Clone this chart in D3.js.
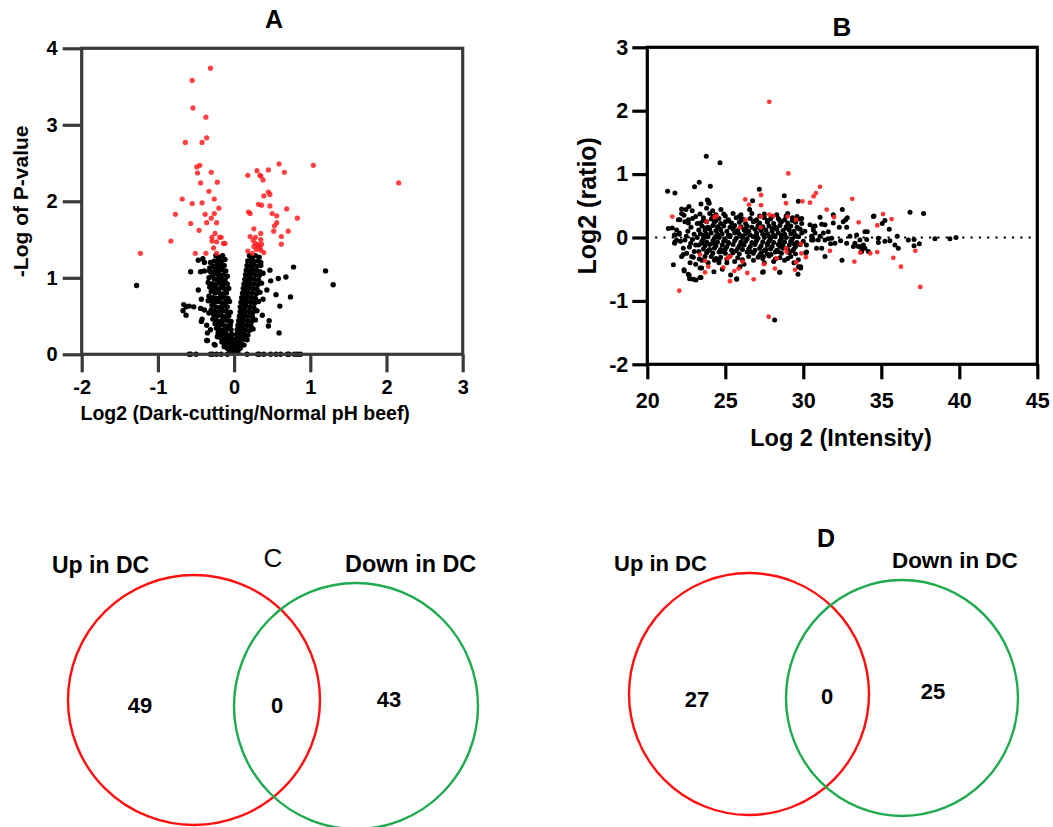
<!DOCTYPE html>
<html>
<head>
<meta charset="utf-8">
<script src="https://cdn.jsdelivr.net/npm/d3@7"></script>
<style>
  html, body { margin: 0; padding: 0; background: #fff; }
  svg { display: block; font-family: Arial, "Liberation Sans", Helvetica, sans-serif; }
</style>
</head>
<body>
<svg id="fig" width="1053" height="827"></svg>
<script>
// ---------- Panel A: volcano plot (log2 fold change vs -log10 p) ----------
const volcanoXTicks = [-2, -1, 0, 1, 2, 3];
const volcanoYTicks = [0, 1, 2, 3, 4];

// significant proteins (p < 0.05)
const volcanoSig = [
  [-0.31,3.74],[-0.55,3.58],[-0.54,3.22],[-0.37,3.10],[-0.64,2.77],[-0.42,2.77],[-0.36,2.83],
  [-0.49,2.45],[-0.45,2.47],[-0.48,2.37],[-0.30,2.38],[-0.44,2.24],[-0.22,2.25],[-0.33,2.13],
  [-0.68,2.03],[-0.55,1.97],[-0.42,1.98],[-0.26,2.03],[-0.20,1.91],[-0.77,1.83],[-0.38,1.83],
  [-0.26,1.84],[-0.57,1.71],[-0.36,1.72],[-0.30,1.78],[-0.23,1.72],[-0.46,1.62],[-0.83,1.48],
  [-0.25,1.58],[-0.29,1.53],[-0.19,1.53],[-0.17,1.53],[-0.23,1.47],[-0.29,1.48],[-0.14,1.45],
  [-0.12,1.45],[-0.27,1.39],[-0.51,1.32],[-0.37,1.32],[-1.23,1.32],[-0.23,1.32],
  [1.04,2.47],[2.16,2.24],[0.59,2.49],[0.45,2.41],[0.30,2.40],[0.18,2.34],[0.34,2.34],
  [0.35,2.33],[0.38,2.28],[0.66,2.38],[0.45,2.12],[0.47,2.09],[0.39,2.07],[0.32,1.96],
  [0.36,1.95],[0.47,1.94],[0.69,1.90],[0.19,1.86],[0.21,1.84],[0.50,1.84],[0.56,1.81],
  [0.83,1.78],[0.56,1.72],[0.53,1.68],[0.52,1.61],[0.26,1.64],[0.71,1.61],[0.35,1.58],
  [0.62,1.54],[0.21,1.54],[0.28,1.53],[0.25,1.49],[0.35,1.50],[0.62,1.44],[0.28,1.45],
  [0.32,1.43],[0.26,1.41],[0.34,1.39],[0.29,1.37],[0.35,1.36],[0.18,1.35],[0.39,1.33],
  [0.24,1.32],[0.32,1.41],[0.36,1.44]
];

// non-significant proteins
const volcanoNS = [
  [-1.28,0.90],[1.20,1.09],[1.30,0.91],[0.78,1.14],[0.68,1.01],[0.58,0.99],[0.74,0.75],
  [0.60,0.63],[0.55,0.78],[0.59,0.28],[0.46,0.44],[0.45,0.37],[0.48,0.96],[0.43,0.84],
  [0.37,0.51],[0.38,0.72],[0.47,1.10],
  [-0.57,1.08],[-0.47,1.23],[-0.41,1.25],[-0.39,1.20],[-0.44,1.08],[-0.39,1.09],[-0.32,1.09],
  [-0.47,0.84],[-0.66,0.65],[-0.63,0.62],[-0.59,0.63],[-0.53,0.62],[-0.67,0.57],[-0.63,0.51],
  [-0.43,0.72],[-0.44,0.60],[-0.42,0.46],[-0.39,0.58],[-0.35,0.28],[-0.35,0.18],[-0.25,0.12],
  [-0.33,0.54],[-0.43,0.43],[-0.36,0.18],[-0.26,0.13],[-0.22,0.23],[-0.30,0.90],[-0.34,0.70],
  [-0.36,0.38],[-0.31,0.32],
  [-0.59,0],[-0.57,0],[-0.50,0],[-0.31,0],[-0.28,0],[-0.23,0],[-0.17,0],[-0.09,0],[0.17,0],
  [0.31,0],[0.33,0],[0.39,0],[0.48,0],[0.55,0],[0.61,0],[0.70,0],[0.72,0],[0.79,0],[0.83,0],[0.87,0],
  [-0.24,1.29],[-0.19,1.27],[-0.15,1.29],
  [-0.26,1.22],[-0.21,1.23],[-0.17,1.21],[-0.12,1.24],
  [-0.27,1.15],[-0.22,1.17],[-0.18,1.15],[-0.13,1.16],
  [-0.25,1.10],[-0.20,1.09],[-0.16,1.11],[-0.11,1.09],
  [-0.28,1.03],[-0.23,1.05],[-0.18,1.03],[-0.14,1.04],[-0.09,1.02],
  [-0.26,0.98],[-0.21,0.97],[-0.17,0.99],[-0.12,0.97],
  [-0.29,0.92],[-0.24,0.91],[-0.19,0.93],[-0.14,0.91],[-0.09,0.92],
  [-0.27,0.86],[-0.22,0.85],[-0.17,0.87],[-0.12,0.85],[-0.07,0.86],
  [-0.25,0.80],[-0.20,0.81],[-0.15,0.79],[-0.10,0.80],
  [-0.28,0.74],[-0.23,0.73],[-0.18,0.75],[-0.13,0.74],[-0.08,0.73],
  [-0.26,0.68],[-0.21,0.69],[-0.16,0.67],[-0.11,0.68],[-0.06,0.69],
  [-0.24,0.62],[-0.19,0.61],[-0.14,0.63],[-0.09,0.62],
  [-0.25,0.56],[-0.20,0.55],[-0.15,0.57],[-0.10,0.56],[-0.05,0.55],
  [-0.22,0.50],[-0.17,0.51],[-0.12,0.49],[-0.07,0.50],
  [-0.23,0.44],[-0.18,0.43],[-0.13,0.45],[-0.08,0.44],[-0.04,0.43],
  [-0.20,0.38],[-0.15,0.39],[-0.10,0.37],[-0.05,0.38],
  [-0.18,0.32],[-0.13,0.31],[-0.09,0.33],[-0.04,0.32],
  [-0.16,0.26],[-0.11,0.27],[-0.07,0.25],[-0.03,0.26],
  [-0.14,0.20],[-0.10,0.21],[-0.06,0.19],[-0.02,0.20],
  [-0.12,0.14],[-0.08,0.15],[-0.04,0.13],[-0.01,0.14],
  [-0.09,0.08],[-0.06,0.09],[-0.03,0.07],[0.00,0.08],
  [-0.06,0.03],[-0.03,0.02],[0.00,0.03],[0.02,0.02],
  [-0.31,1.20],[-0.32,1.13],[-0.30,1.07],[-0.33,1.00],[-0.34,0.94],[-0.32,0.88],[-0.30,0.82],
  [-0.33,0.76],[-0.31,0.70],[-0.29,0.64],[-0.30,0.58],[-0.27,0.52],[-0.28,0.46],[-0.25,0.40],
  [-0.23,0.34],[-0.21,0.28],[-0.18,0.22],[-0.16,0.16],[-0.13,0.10],
  [-0.195,1.19],[-0.235,1.13],[-0.20,1.00],[-0.155,0.95],[-0.245,0.83],[-0.195,0.71],
  [-0.165,0.59],[-0.145,0.47],[-0.115,0.35],[-0.085,0.23],
  [0.20,1.29],[0.24,1.27],[0.28,1.29],
  [0.18,1.22],[0.22,1.23],[0.26,1.21],[0.31,1.22],
  [0.17,1.16],[0.21,1.15],[0.25,1.17],[0.30,1.15],[0.35,1.16],
  [0.16,1.10],[0.20,1.09],[0.24,1.11],[0.29,1.10],
  [0.15,1.04],[0.19,1.03],[0.23,1.05],[0.28,1.04],[0.33,1.03],
  [0.14,0.98],[0.18,0.97],[0.22,0.99],[0.27,0.98],
  [0.13,0.92],[0.17,0.91],[0.21,0.93],[0.26,0.92],[0.31,0.91],
  [0.12,0.86],[0.16,0.85],[0.20,0.87],[0.25,0.86],
  [0.11,0.80],[0.15,0.79],[0.19,0.81],[0.24,0.80],[0.29,0.79],
  [0.10,0.74],[0.14,0.73],[0.18,0.75],[0.23,0.74],
  [0.09,0.68],[0.13,0.67],[0.17,0.69],[0.22,0.68],[0.27,0.67],
  [0.08,0.62],[0.12,0.61],[0.16,0.63],[0.21,0.62],
  [0.08,0.56],[0.11,0.55],[0.15,0.57],[0.20,0.56],[0.25,0.55],
  [0.07,0.50],[0.10,0.49],[0.14,0.51],[0.19,0.50],
  [0.06,0.44],[0.09,0.43],[0.13,0.45],[0.18,0.44],[0.23,0.43],
  [0.05,0.38],[0.08,0.37],[0.12,0.39],[0.17,0.38],
  [0.04,0.32],[0.07,0.31],[0.11,0.33],[0.15,0.32],[0.20,0.31],
  [0.03,0.26],[0.06,0.25],[0.10,0.27],[0.14,0.26],
  [0.03,0.20],[0.05,0.19],[0.09,0.21],[0.13,0.20],
  [0.02,0.14],[0.04,0.13],[0.07,0.15],[0.10,0.14],
  [0.01,0.08],[0.03,0.07],[0.05,0.09],[0.08,0.08],
  [0.01,0.03],[0.03,0.02],[0.05,0.03],
  [0.33,1.27],[0.35,1.20],[0.34,1.08],[0.38,1.06],[0.32,0.97],[0.36,0.93],[0.30,0.85],
  [0.34,0.81],[0.28,0.73],[0.32,0.69],[0.26,0.61],[0.30,0.57],[0.24,0.49],[0.28,0.45],
  [0.22,0.37],[0.25,0.33],[0.18,0.25],[0.17,0.19],[0.13,0.12],
  [0.235,1.19],[0.225,1.07],[0.195,0.95],[0.175,0.83],[0.155,0.71],[0.135,0.59],
  [0.115,0.47],[0.09,0.35],[0.075,0.23]
];

// ---------- Panel B: MA plot (log2 intensity vs log2 ratio) ----------
const maXTicks = [20, 25, 30, 35, 40, 45];
const maYTicks = [-2, -1, 0, 1, 2, 3];

const maSig = [
  [21.60,0.33],[22.05,-0.84],[29.04,1.01],[31.07,0.80],[30.81,0.70],[30.66,0.65],[30.43,0.55],
  [29.94,0.57],[28.89,0.54],[27.29,0.67],[26.28,0.60],[26.52,0.52],[27.29,0.51],[31.50,0.44],
  [31.97,0.32],[33.14,0.61],[33.55,0.24],[35.11,0.37],[35.66,0.29],[34.74,0.19],[33.27,-0.38],
  [31.71,-0.21],[27.78,-1.25],[24.44,0.34],[24.32,0.32],[23.80,0.25],[23.38,-0.27],[23.70,-0.37],
  [23.91,-0.46],[23.70,-0.55],[24.87,-0.47],[25.30,-0.69],[25.58,-0.53],[25.85,-0.49],[26.11,-0.38],
  [26.41,-0.56],[26.82,-0.66],[25.13,-0.33],[27.48,-0.42],[28.18,-0.49],[28.29,-0.33],[28.93,-0.23],
  [29.47,-0.51],[29.55,-0.39],[29.87,-0.25],[30.17,-0.31],[29.85,-0.10],[26.30,0.28],[27.29,0.33],
  [28.08,0.34],[27.82,0.36],[28.99,0.33],[29.53,0.28],[25.94,0.16],[27.27,0.16],[28.89,-0.17],
  [25.30,-0.30],[33.65,-0.24],[34.29,-0.25],[34.74,-0.23],[35.77,-0.32],[36.26,-0.46],[37.18,-0.21],
  [37.50,-0.78],[27.82,2.14]
];

const maNS = [
  [23.6,0.31],[24.1,0.29],[24.6,0.30],[25.2,0.28],[25.7,0.31],[26.1,0.29],[26.6,0.30],[27.0,0.28],
  [27.5,0.31],[27.9,0.29],[28.4,0.30],[28.8,0.28],[29.3,0.31],[29.7,0.29],
  [23.4,0.23],[23.8,0.25],[24.3,0.24],[24.7,0.22],[25.0,0.25],[25.4,0.23],[25.9,0.24],[26.3,0.22],
  [26.8,0.25],[27.2,0.23],[27.7,0.24],[28.1,0.22],[28.6,0.25],[29.0,0.23],[29.5,0.24],[29.9,0.22],
  [23.5,0.18],[23.9,0.16],[24.2,0.19],[24.5,0.17],[24.9,0.18],[25.3,0.16],[25.6,0.19],[26.0,0.17],
  [26.4,0.18],[26.7,0.16],[27.1,0.19],[27.4,0.17],[27.8,0.18],[28.2,0.16],[28.5,0.19],[28.9,0.17],
  [29.2,0.18],[29.6,0.16],
  [23.3,0.12],[23.7,0.11],[24.0,0.13],[24.4,0.11],[24.7,0.12],[25.1,0.10],[25.5,0.13],[25.8,0.11],
  [26.2,0.12],[26.5,0.10],[26.9,0.13],[27.3,0.11],[27.6,0.12],[28.0,0.10],[28.3,0.13],[28.7,0.11],
  [29.1,0.12],[29.4,0.10],[29.8,0.13],
  [23.4,0.06],[23.8,0.05],[24.1,0.07],[24.5,0.05],[24.8,0.06],[25.2,0.04],[25.6,0.07],[25.9,0.05],
  [26.3,0.06],[26.6,0.04],[27.0,0.07],[27.4,0.05],[27.7,0.06],[28.1,0.04],[28.4,0.07],[28.8,0.05],
  [29.2,0.06],[29.5,0.04],[29.9,0.07],
  [23.2,0.00],[23.6,-0.01],[23.9,0.01],[24.3,-0.01],[24.6,0.00],[25.0,-0.02],[25.3,0.01],[25.7,-0.01],
  [26.1,0.00],[26.4,-0.02],[26.8,0.01],[27.1,-0.01],[27.5,0.00],[27.9,-0.02],[28.2,0.01],[28.6,-0.01],
  [28.9,0.00],[29.3,-0.02],[29.7,0.01],
  [23.5,-0.06],[23.8,-0.07],[24.2,-0.05],[24.5,-0.07],[24.9,-0.06],[25.2,-0.08],[25.6,-0.05],[26.0,-0.07],
  [26.3,-0.06],[26.7,-0.08],[27.0,-0.05],[27.4,-0.07],[27.8,-0.06],[28.1,-0.08],[28.5,-0.05],[28.8,-0.07],
  [29.2,-0.06],[29.6,-0.08],
  [23.3,-0.12],[23.7,-0.13],[24.0,-0.11],[24.4,-0.13],[24.8,-0.12],[25.1,-0.14],[25.5,-0.11],[25.9,-0.13],
  [26.2,-0.12],[26.6,-0.14],[26.9,-0.11],[27.3,-0.13],[27.7,-0.12],[28.0,-0.14],[28.4,-0.11],[28.7,-0.13],
  [29.1,-0.12],[29.5,-0.14],[29.8,-0.11],
  [23.6,-0.18],[24.0,-0.19],[24.3,-0.17],[24.7,-0.19],[25.0,-0.18],[25.4,-0.20],[25.8,-0.17],[26.1,-0.19],
  [26.5,-0.18],[26.9,-0.20],[27.2,-0.17],[27.6,-0.19],[27.9,-0.18],[28.3,-0.20],[28.7,-0.17],[29.0,-0.19],
  [29.4,-0.18],
  [23.8,-0.24],[24.2,-0.25],[24.6,-0.23],[25.0,-0.25],[25.5,-0.24],[25.9,-0.26],[26.4,-0.23],[26.8,-0.25],
  [27.3,-0.24],[27.7,-0.26],[28.2,-0.23],[28.6,-0.25],[29.1,-0.24],[29.5,-0.26],
  [24.1,-0.30],[24.7,-0.31],[25.3,-0.29],[25.8,-0.32],[26.5,-0.30],[27.1,-0.31],[27.8,-0.29],[28.5,-0.32],
  [29.2,-0.30],
  [23.6,0.27],[24.4,0.27],[25.2,0.26],[26.0,0.27],[26.9,0.26],[27.7,0.27],[28.5,0.26],[29.3,0.27],
  [23.7,0.15],[24.6,0.14],[25.5,0.15],[26.3,0.14],[27.2,0.15],[28.0,0.14],[28.9,0.15],[29.7,0.14],
  [23.6,0.03],[24.4,0.02],[25.3,0.03],[26.1,0.02],[27.0,0.03],[27.8,0.02],[28.6,0.03],[29.5,0.02],
  [23.5,-0.09],[24.3,-0.10],[25.2,-0.09],[26.0,-0.10],[26.9,-0.09],[27.7,-0.10],[28.5,-0.09],[29.4,-0.10],
  [23.9,-0.21],[24.8,-0.22],[25.7,-0.21],[26.6,-0.22],[27.5,-0.21],[28.4,-0.22],[29.3,-0.21],
  [24.4,-0.33],[25.1,-0.34],[26.1,-0.35],[27.4,-0.33],[28.2,-0.34],[29.0,-0.33],
  [24.2,0.33],[25.0,0.34],[25.9,0.33],[27.2,0.34],[28.0,0.33],[28.9,0.34],[29.6,0.33],
  [22.6,0.10],[22.8,0.16],[23.0,0.05],[22.9,-0.03],[22.5,0.02],[23.1,-0.12],[22.7,-0.15],[23.2,0.22],
  [22.9,0.30],[23.1,-0.42],[23.3,-0.22],[23.5,-0.36],[23.7,-0.30],[23.9,-0.40],[24.3,-0.36],[24.0,0.38],
  [24.4,0.36],[24.9,0.37],[25.5,0.38],[26.0,0.36],[26.7,0.38],[27.5,0.37],[28.3,0.36],[29.0,0.38],
  [29.9,0.30],[30.1,0.10],[30.2,-0.12],[24.6,-0.36],[25.1,-0.40],[25.6,-0.38],[26.2,-0.42],[26.8,-0.36],
  [27.5,-0.40],[28.1,-0.38],[28.8,-0.36],[29.4,-0.40],
  [21.30,0.73],[21.77,0.70],[23.78,1.28],[24.66,1.18],[23.33,0.87],[23.03,0.80],[24.04,0.81],[23.91,0.58],
  [23.97,0.54],[23.44,0.53],[22.20,0.45],[22.88,0.42],[22.67,0.49],[22.35,0.35],[21.99,0.28],[21.60,0.15],
  [21.35,0.14],[21.73,0.04],[22.05,0.05],[21.88,-0.04],[21.75,-0.09],[22.12,-0.06],[21.67,-0.43],[22.31,-0.27],
  [22.20,-0.30],[22.74,-0.40],[22.37,-0.53],[22.69,-0.60],[22.95,-0.66],[23.12,-0.67],[23.38,-0.63],[23.48,-0.48],
  [23.01,-0.22],[22.95,-0.31],[23.33,-0.34],[22.78,-0.09],[22.63,0.23],[22.41,0.25],[23.10,0.33],[23.38,0.37],
  [23.80,0.46],[24.19,0.42],[24.72,0.44],[24.27,-0.54],[24.81,-0.50],[25.73,-0.65],[25.34,-0.59],[24.59,-0.40],
  [25.94,-0.46],[27.18,0.76],[26.75,0.58],[26.56,0.44],[28.78,0.66],[29.68,0.57],[29.70,-0.46],[29.66,-0.58],
  [28.50,-0.55],[28.16,-1.30],[27.44,-0.54],[27.39,-0.55],[27.44,-0.30],[27.22,-0.27],[27.93,-0.27],[28.50,-0.14],
  [29.68,-0.35],[29.83,-0.48],[30.15,-0.24],[30.00,-0.06],[30.43,0.20],[30.75,0.18],[31.07,0.32],[31.39,0.20],
  [31.92,0.36],[32.50,0.44],[31.92,0.23],[32.31,0.16],[32.56,0.25],[32.78,0.16],[32.71,0.28],[31.60,0.09],
  [31.82,-0.01],[31.39,-0.04],[31.07,0.02],[30.64,-0.04],[30.85,-0.17],[31.18,-0.17],[31.39,-0.30],[30.53,0.02],
  [30.64,0.12],[32.03,-0.09],[32.39,-0.05],[32.78,-0.09],[32.48,-0.36],[32.99,0.02],[33.31,-0.09],[33.63,-0.04],
  [33.53,-0.14],[33.74,-0.17],[33.21,-0.14],[33.42,0.04],[33.95,0.09],[34.06,-0.03],[32.82,0.31],[34.49,0.33],
  [36.84,0.40],[37.71,0.38],[34.53,0.34],[35.06,0.22],[35.23,0.27],[35.51,0.13],[34.10,0.09],[34.81,-0.01],
  [34.81,-0.08],[35.23,-0.06],[35.55,-0.05],[36.02,0.02],[35.87,-0.12],[36.09,-0.17],[36.73,-0.04],[37.10,-0.03],
  [37.10,-0.13],[37.44,-0.10],[38.44,-0.02],[39.40,-0.02],[39.79,0.00],[33.64,-0.14],[33.74,-0.22],[34.17,-0.22],
  [33.95,-0.17],[33.85,-0.12],[31.75,-0.10],[31.60,-0.02],[31.28,0.07],[31.18,0.21],[30.64,0.17],[30.75,0.07],
  [30.96,-0.04],[30.53,-0.04],[30.21,-0.23],[29.83,-0.46],[28.48,-0.55],[25.73,-0.66],[22.09,0.28],[22.48,0.44],
  [22.63,0.28],[22.52,-0.25],[22.31,-0.17],[22.41,-0.04],[22.84,-0.30],[23.44,-0.63],[23.38,-0.48],[22.35,-0.51],
  [22.63,-0.58],[22.71,-0.65],[21.88,0.12],[21.77,0.04],[22.05,0.07],[21.77,-0.07],[22.20,0.38],[23.93,0.55],
  [23.85,0.59]
];

// ---------- Panels C and D: Venn diagrams ----------
const vennSets = ["Up in DC", "Down in DC"];
const vennCountsC = [49, 0, 43];   // up only, shared, down only
const vennCountsD = [27, 0, 25];

const svg = d3.select("#fig");
const RED = "#ff2020";

// ===== Panel A =====
{
  const frame = "#3a3a3a";
  const x = d3.scaleLinear().domain([-2, 3]).range([81.7, 462.7]);
  const y = d3.scaleLinear().domain([0, 4]).range([354.3, 48.3]);
  const g = svg.append("g");

  g.selectAll("circle.ns").data(volcanoNS).join("circle")
    .attr("class", "ns").attr("cx", d => x(d[0])).attr("cy", d => y(d[1]))
    .attr("r", 2.7).attr("fill", "#000");
  g.selectAll("circle.sig").data(volcanoSig).join("circle")
    .attr("class", "sig").attr("cx", d => x(d[0])).attr("cy", d => y(d[1]))
    .attr("r", 2.6).attr("fill", RED).attr("fill-opacity", 0.85);

  g.append("rect").attr("x", x(-2)).attr("y", y(4))
    .attr("width", x(3) - x(-2)).attr("height", y(0) - y(4))
    .attr("fill", "none").attr("stroke", frame).attr("stroke-width", 3.2);

  const xa = g.append("g").attr("transform", `translate(0,${y(0)})`)
    .call(d3.axisBottom(x).tickValues(volcanoXTicks).tickSize(18).tickPadding(8).tickFormat(d => String(d)));
  const ya = g.append("g").attr("transform", `translate(${x(-2)},0)`)
    .call(d3.axisLeft(y).tickValues(volcanoYTicks).tickSize(19).tickPadding(5).tickFormat(d => String(d)));
  [xa, ya].forEach(a => {
    a.select(".domain").remove();
    a.selectAll("line").attr("stroke", frame).attr("stroke-width", 3.2);
    a.selectAll("text").attr("fill", "#000").attr("font-size", 20).attr("font-weight", "bold")
      .attr("font-family", "Arial, 'Liberation Sans', sans-serif");
  });

  g.append("text").attr("x", 274).attr("y", 28).attr("text-anchor", "middle")
    .attr("font-size", 25).attr("font-weight", "bold").text("A");
  g.append("text").attr("x", (x(-2) + x(3)) / 2 - 27).attr("y", 420).attr("text-anchor", "middle")
    .attr("font-size", 19.5).attr("font-weight", "bold").text("Log2 (Dark-cutting/Normal pH beef)");
  g.append("text").attr("transform", `translate(28,${(y(0) + y(4)) / 2}) rotate(-90)`)
    .attr("text-anchor", "middle").attr("font-size", 21).attr("font-weight", "bold")
    .text("-Log of P-value");
}

// ===== Panel B =====
{
  const x = d3.scaleLinear().domain([20, 45]).range([647.3, 1037.3]);
  const y = d3.scaleLinear().domain([-2, 3]).range([364.3, 47.3]);
  const g = svg.append("g");

  // reference line at ratio 0
  g.append("line").attr("x1", x(20.5)).attr("x2", x(45)).attr("y1", y(0)).attr("y2", y(0))
    .attr("stroke", "#000").attr("stroke-width", 2.2).attr("stroke-dasharray", "2.2 6.1");

  g.selectAll("circle.ns").data(maNS).join("circle")
    .attr("class", "ns").attr("cx", d => x(d[0])).attr("cy", d => y(d[1]))
    .attr("r", 2.5).attr("fill", "#000");
  g.selectAll("circle.sig").data(maSig).join("circle")
    .attr("class", "sig").attr("cx", d => x(d[0])).attr("cy", d => y(d[1]))
    .attr("r", 2.4).attr("fill", RED).attr("fill-opacity", 0.9);

  g.append("rect").attr("x", x(20)).attr("y", y(3))
    .attr("width", x(45) - x(20)).attr("height", y(-2) - y(3))
    .attr("fill", "none").attr("stroke", "#000").attr("stroke-width", 3.2);

  const xa = g.append("g").attr("transform", `translate(0,${y(-2)})`)
    .call(d3.axisBottom(x).tickValues(maXTicks).tickSize(15).tickPadding(13).tickFormat(d => String(d)));
  const ya = g.append("g").attr("transform", `translate(${x(20)},0)`)
    .call(d3.axisLeft(y).tickValues(maYTicks).tickSize(15).tickPadding(4).tickFormat(d => String(d)));
  [xa, ya].forEach(a => {
    a.select(".domain").remove();
    a.selectAll("line").attr("stroke", "#000").attr("stroke-width", 3.2);
    a.selectAll("text").attr("fill", "#000").attr("font-size", 21.5).attr("font-weight", "bold")
      .attr("font-family", "Arial, 'Liberation Sans', sans-serif");
  });

  g.append("text").attr("x", 842).attr("y", 36).attr("text-anchor", "middle")
    .attr("font-size", 26).attr("font-weight", "bold").text("B");
  g.append("text").attr("x", 841).attr("y", 446).attr("text-anchor", "middle")
    .attr("font-size", 23.5).attr("font-weight", "bold").text("Log 2 (Intensity)");
  g.append("text").attr("transform", `translate(596,${(y(-2) + y(3)) / 2}) rotate(-90)`)
    .attr("text-anchor", "middle").attr("font-size", 25).attr("font-weight", "bold")
    .text("Log2 (ratio)");
}

// ===== Venn diagrams =====
function venn(cfg, counts) {
  const g = svg.append("g");
  g.append("ellipse").attr("cx", cfg.up.cx).attr("cy", cfg.up.cy).attr("rx", cfg.up.rx).attr("ry", cfg.up.ry)
    .attr("fill", "none").attr("stroke", "#ff0f0f").attr("stroke-width", 2.4);
  g.append("ellipse").attr("cx", cfg.down.cx).attr("cy", cfg.down.cy).attr("rx", cfg.down.rx).attr("ry", cfg.down.ry)
    .attr("fill", "none").attr("stroke", "#1faa4e").attr("stroke-width", 2.4);
  g.append("text").attr("x", cfg.upLabel[0]).attr("y", cfg.upLabel[1])
    .attr("font-size", cfg.labelSize).attr("font-weight", "bold").text(vennSets[0]);
  g.append("text").attr("x", cfg.downLabel[0]).attr("y", cfg.downLabel[1])
    .attr("font-size", cfg.labelSize + 0.4).attr("font-weight", "bold").text(vennSets[1]);
  g.append("text").attr("x", cfg.title[0]).attr("y", cfg.title[1]).attr("text-anchor", "middle")
    .attr("font-size", cfg.titleSize).attr("font-weight", cfg.titleWeight).text(cfg.titleText);
  g.selectAll("text.count").data(counts).join("text").attr("class", "count")
    .attr("x", (d, i) => cfg.countPos[i][0]).attr("y", (d, i) => cfg.countPos[i][1])
    .attr("text-anchor", "middle").attr("font-size", 22).attr("font-weight", "bold")
    .text(d => d);
}

venn({
  up: { cx: 194, cy: 700, rx: 126, ry: 125 },
  down: { cx: 356, cy: 706, rx: 122, ry: 123 },
  upLabel: [52, 573], downLabel: [345, 572], labelSize: 23,
  title: [273, 567], titleSize: 26, titleWeight: "normal", titleText: "C",
  countPos: [[140, 713], [277, 713], [389, 707]]
}, vennCountsC);

venn({
  up: { cx: 749, cy: 694, rx: 120, ry: 121 },
  down: { cx: 902, cy: 698, rx: 116, ry: 118 },
  upLabel: [614, 571], downLabel: [892, 568], labelSize: 22,
  title: [826, 547], titleSize: 25, titleWeight: "bold", titleText: "D",
  countPos: [[697, 707], [827, 704], [933, 699]]
}, vennCountsD);
</script>
</body>
</html>
